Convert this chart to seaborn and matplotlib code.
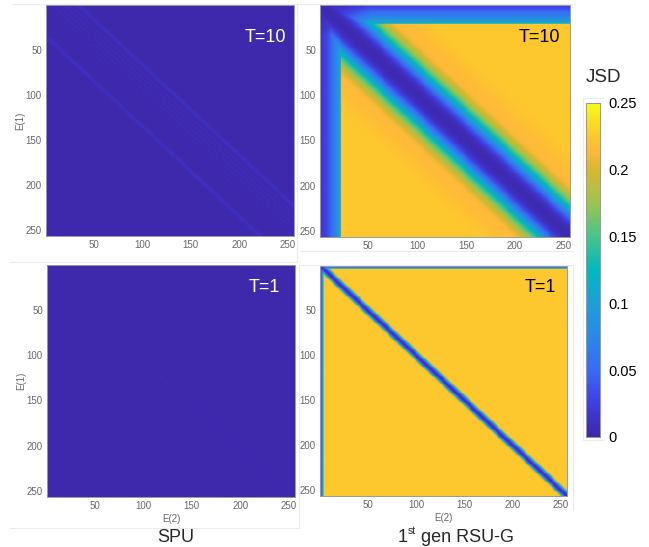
import numpy as np
import matplotlib
matplotlib.use('Agg')
import matplotlib.pyplot as plt
from matplotlib.colors import LinearSegmentedColormap
from matplotlib.lines import Line2D
import seaborn as sns

# JSD, one value per |E(1)-E(2)|
rsu_t10_diag = [
    .004, .004, .005, .005, .006, .006, .007, .008, .009, .010,
    .012, .014, .017, .020, .024, .028, .032, .036, .040, .045,
    .050, .056, .062, .068, .074, .080, .086, .092, .098, .104,
    .110, .116, .122, .128, .134, .140, .145, .150, .155, .160,
    .165, .169, .173, .177, .181, .185, .189, .192, .195, .198,
    .200, .203, .206, .208, .210, .212, .213, .214, .214, .215,
    .215, .215, .215, .215, .215, .216, .216, .216, .216, .217,
    .217, .217, .218, .218, .218, .219, .219, .219, .220, .220,
    .220, .221, .221, .221, .222, .222, .222, .223, .223, .223,
    .223, .224, .224, .224, .224, .225,
]
rsu_t10_top = [.026, .028, .031, .034, .037, .040, .044, .048, .052, .056, .060,
               .065, .070, .075, .080, .085, .090, .096, .102, .108, .115]
# the top and left bands fade towards the dark corner
rsu_t10_top_fade = [.45] * 25 + [.47, .49, .51, .53, .55, .57, .59, .61, .63, .65, .67, .69, .71, .73, .75,
                                 .77, .79, .81, .83, .85, .87, .89, .91, .93, .95, .97, .99]
rsu_t10_left = [.020, .020, .021, .022, .024, .026, .029, .032, .036, .040, .044,
                .049, .054, .059, .065, .071, .077, .084, .091, .100, .110, .120]
rsu_t10_left_fade = [.55] * 25 + [.60, .65, .70, .75, .80, .85, .90, .95]
rsu_t1_diag = [.008, .015, .030, .055, .090, .135, .180, .210]
rsu_t1_top = [.020, .050, .110]
rsu_t1_left = [.020, .050, .080, .150]
rsu_plateau = .225

# signed offsets E(1)-E(2) of the faint SPU stripes
spu_t10_offsets = [31, 32, 33, 34, 35, 36, 37, 38, 39,
                   -29, -30, -31, -32, -33, -34, -35, -36, -37,
                   -25, -24, -19, -18, -13, -12, -7, -6, -1, 0, 5, 6, 11, 12]
spu_t10_values = [.004, .006, .008, .010, .012, .010, .008, .006, .004,
                  .004, .006, .008, .010, .012, .010, .008, .006, .004,
                  .008, .009, .008, .009, .008, .009, .008, .009, .007, .008, .007, .007, .006, .006]
spu_t1_offsets = [-1, 0, 6, 7]
spu_t1_values = [.004, .005, .006, .007]
spu_base = .002

cbar_ticks = [0, .05, .1, .15, .2, .25]
cbar_labels = ['0', '0.05', '0.1', '0.15', '0.2', '0.25']
axis_ticks = [50, 100, 150, 200, 250]

parula_stops = ['#3e26a8', '#3f3fe0', '#3a6bf5', '#2a88e8', '#1e9fd8', '#00b8be',
                '#45c58b', '#9cc44f', '#d8b830', '#ffb93a', '#fdc72e', '#f9e61f', '#f9fb15']
parula_pos = [0, .1, .2, .3, .4, .5, .6, .7, .8, .86, .9, .96, 1]
parula = LinearSegmentedColormap.from_list('parula', list(zip(parula_pos, parula_stops)), N=256)

N = 256


def rsu_matrix(diag, top, left, top_fade=(1,), left_fade=(1,)):
    # cells away from the diagonal sit on the plateau, the edges follow their own bands
    m = np.full((N, N), rsu_plateau)
    for i in range(N):
        for j in range(N):
            d = abs(i - j)
            v = diag[d] if d < len(diag) else rsu_plateau
            if i < len(top):
                v = min(v, top[i] * (top_fade[j] if j < len(top_fade) else 1))
            if j < len(left):
                v = min(v, left[j] * (left_fade[i] if i < len(left_fade) else 1))
            m[i, j] = v
    return m


def spu_matrix(offsets, values):
    m = np.full((N, N), spu_base)
    for off, val in zip(offsets, values):
        for j in range(N):
            if 0 <= j + off < N:
                m[j + off, j] = val
    return m


sns.set_style('white')
plt.rcParams['font.family'] = ['Liberation Sans', 'DejaVu Sans']

W, H = 649, 547
fig = plt.figure(figsize=(W / 100, H / 100), dpi=100)


def add_axes_px(x0, y0, x1, y1):
    return fig.add_axes([x0 / W, 1 - y1 / H, (x1 - x0) / W, (y1 - y0) / H])


def panel(box, m, label, label_color, label_pos, xlabel=None, ylabel=None, cax=None):
    ax = add_axes_px(*box)
    sns.heatmap(m, ax=ax, vmin=0, vmax=.25, cmap=parula, square=False, linewidths=.3, linecolor='face',
                antialiased=True, cbar=cax is not None, cbar_ax=cax, xticklabels=False, yticklabels=False)
    ax.set_xticks([t - .5 for t in axis_ticks])
    ax.set_xticklabels(axis_ticks, rotation=0)
    ax.set_yticks([t - .5 for t in axis_ticks])
    ax.set_yticklabels(axis_ticks, rotation=0)
    ax.tick_params(axis='both', labelsize=7, labelcolor='#666666', length=2, direction='in',
                   pad=3, width=.5, color='#888888')
    for s in ax.spines.values():
        s.set_visible(True)
        s.set_color('#999999')
        s.set_linewidth(.7)
    fig.text(label_pos[0] / W, 1 - label_pos[1] / H, label, color=label_color, fontsize=13,
             ha='center', va='center')
    if xlabel:
        ax.set_xlabel(xlabel, fontsize=7, color='#666666', labelpad=2)
    if ylabel:
        ax.set_ylabel(ylabel, fontsize=7, color='#666666', labelpad=0)
    return ax


cax = add_axes_px(586, 103, 600, 437)

panel((46, 5, 294, 236), spu_matrix(spu_t10_offsets, spu_t10_values), 'T=10', 'white', (265, 37), ylabel='E(1)')
panel((320, 5, 570, 237), rsu_matrix(rsu_t10_diag, rsu_t10_top, rsu_t10_left, rsu_t10_top_fade, rsu_t10_left_fade),
      'T=10', 'black', (539, 37))
panel((47, 265, 295, 497), spu_matrix(spu_t1_offsets, spu_t1_values), 'T=1', 'white', (264, 287),
      xlabel='E(2)', ylabel='E(1)')
panel((320, 266, 567, 496), rsu_matrix(rsu_t1_diag, rsu_t1_top, rsu_t1_left), 'T=1', 'black', (540, 287),
      xlabel='E(2)', cax=cax)

cax.set_yticks(cbar_ticks)
cax.set_yticklabels(cbar_labels)
cax.tick_params(axis='y', labelsize=10.5, colors='black', length=2, pad=6, direction='in', color='#888888')
for s in cax.spines.values():
    s.set_visible(True)
    s.set_color('#999999')
    s.set_linewidth(.7)

fig.text(603 / W, 1 - 77 / H, 'JSD', fontsize=13.5, ha='center', va='center')
fig.text(176 / W, 1 - 537 / H, 'SPU', fontsize=13, ha='center', va='center')
fig.text(398 / W, 1 - 537 / H, '1', fontsize=13, ha='left', va='center')
fig.text(408 / W, 1 - 531 / H, 'st', fontsize=7.5, ha='left', va='center')
fig.text(421 / W, 1 - 537 / H, 'gen RSU-G', fontsize=13, ha='left', va='center')

# faint frames of the pasted screenshots
frame_lines = [
    ((12, 300), (3.5, 3.5)), ((297, 297), (3, 262)), ((10, 297), (262, 262)),
    ((300, 575), (3.5, 3.5)), ((300, 573), (251, 251)), ((300, 573), (265, 265)),
    ((573, 573), (265, 510)), ((299, 299), (265, 528)), ((10, 299), (528, 528)),
    ((583, 583), (98, 440)), ((583, 603), (440, 440)), ((583, 603), (98, 98)),
]
for xs, ys in frame_lines:
    fig.add_artist(Line2D([x / W for x in xs], [1 - y / H for y in ys], color='#ececec', lw=.8))

fig.savefig('out.png', dpi=100)
